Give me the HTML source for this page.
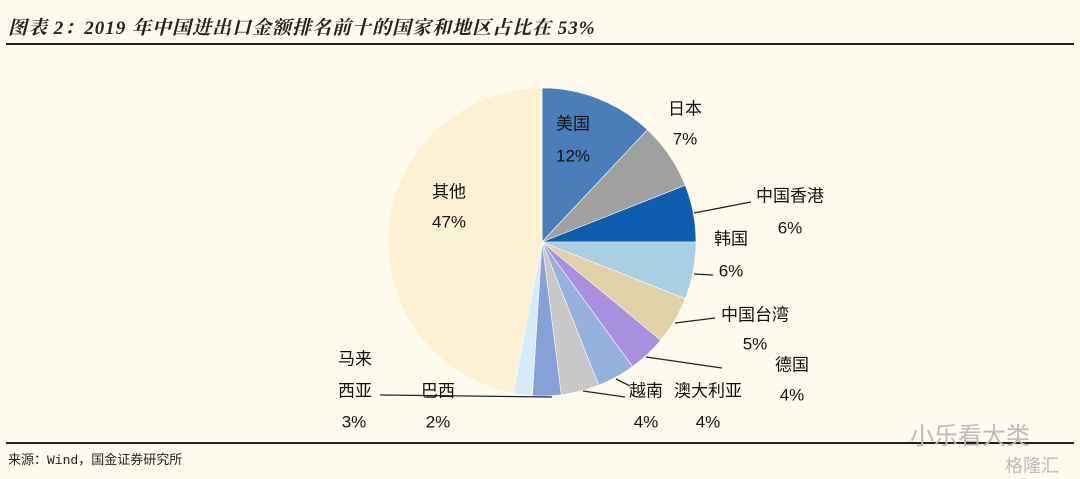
<!DOCTYPE html>
<html><head><meta charset="utf-8">
<style>
html,body{margin:0;padding:0;background:#fefaee;}
body{width:1080px;height:479px;position:relative;overflow:hidden;font-family:"Liberation Sans","Noto Sans CJK SC",sans-serif;}
.title{position:absolute;left:8px;top:13px;font-family:"Liberation Serif","Noto Serif CJK SC",serif;font-style:italic;font-weight:bold;font-size:19px;color:#222;letter-spacing:1px;}
.rule{position:absolute;left:6px;width:1068px;background:#222;}
.src{position:absolute;left:8px;top:449px;font-size:13px;color:#222;font-family:"Liberation Mono","Noto Sans CJK SC",monospace;}
.wm{position:absolute;color:#bbb;font-size:24px;}
</style></head><body>
<div class="title">图表 2：2019 年中国进出口金额排名前十的国家和地区占比在 53%</div>
<div class="rule" style="top:43px;height:2px"></div>
<div class="rule" style="top:442px;height:2px"></div>
<div class="src">来源：Wind，国金证券研究所</div>
<div class="wm" style="left:910px;top:416px">小乐看大类</div>
<div class="wm" style="left:1005px;top:452px;font-size:18px">格隆汇</div>
<svg id="chart" width="1080" height="479" style="position:absolute;left:0;top:0"></svg>
<script>
const categories=["美国","日本","中国香港","韩国","中国台湾","德国","澳大利亚","越南","马来西亚","巴西","其他"];
const values=[12,7,6,6,5,4,4,4,3,2,47];
const valueLabels=["12%","7%","6%","6%","5%","4%","4%","4%","3%","2%","47%"];
const colors=["#4a7ebb","#a0a0a0","#0f5cb0","#abcfe2","#e0d1a8","#a990df","#94b2dd","#c8c8c8","#87a0d8","#d4ecfa","#fef0d2"];
const layout=[[573,125,573,157,1],[685,110,685,140,1],[790,197,790,229,1],[731,240,731,272,1],[755,316,755,345,1],[792,366,792,396,1],[708,392,708,423,1],[646,392,646,423,1],[355,360,355,392,1,354,423],[438,392,438,423,1],[449,193,449,223,1]];
const leaders=[null,null,[694,213,751,202],[694,274,713,275],[675,323,715,318],[646,357,722,368],[583,391,625,397],[616,379,630,386],[380,395,552,397],null,null];
const NS="http://www.w3.org/2000/svg";
const svg=document.getElementById('chart');
const cx=542,cy=242,r=154;
const total=values.reduce((a,b)=>a+b,0);
function pt(f){const a=-Math.PI/2+f*2*Math.PI;return [cx+r*Math.cos(a),cy+r*Math.sin(a)];}
let acc=0;
values.forEach((v,i)=>{
 const f0=acc/total,f1=(acc+v)/total;acc+=v;
 const p0=pt(f0),p1=pt(f1);const large=(f1-f0)>0.5?1:0;
 const p=document.createElementNS(NS,'path');
 p.setAttribute('d',`M${cx},${cy}L${p0[0]},${p0[1]}A${r},${r} 0 ${large} 1 ${p1[0]},${p1[1]}Z`);
 p.setAttribute('fill',colors[i]);p.setAttribute('stroke','#fefaee');p.setAttribute('stroke-width','0.6');
 
 
 svg.appendChild(p);
});
leaders.forEach((l,i)=>{if(!l)return;
 const ln=document.createElementNS(NS,'line');
 ln.setAttribute('x1',l[0]);ln.setAttribute('y1',l[1]);ln.setAttribute('x2',l[2]);ln.setAttribute('y2',l[3]);
 ln.setAttribute('stroke','#222');ln.setAttribute('stroke-width','1.3');
 
 
 svg.appendChild(ln);});
function txt(x,y,s,name){const t=document.createElementNS(NS,'text');
 t.setAttribute('x',x);t.setAttribute('y',y);t.setAttribute('text-anchor','middle');t.setAttribute('font-size','17');t.setAttribute('fill','#111');
 t.setAttribute('dominant-baseline','middle');t.textContent=s;
 
 
 svg.appendChild(t);}
categories.forEach((c,i)=>{const L=layout[i];
 if(i===8){txt(L[0],L[1],"马来",'label-name-'+i);txt(L[2],L[3],"西亚",'label-name-'+i+'b');txt(L[5],L[6],valueLabels[i],'label-value-'+i);}
 else{txt(L[0],L[1],c,'label-name-'+i);txt(L[2],L[3],valueLabels[i],'label-value-'+i);}
});
</script>
</body></html>
